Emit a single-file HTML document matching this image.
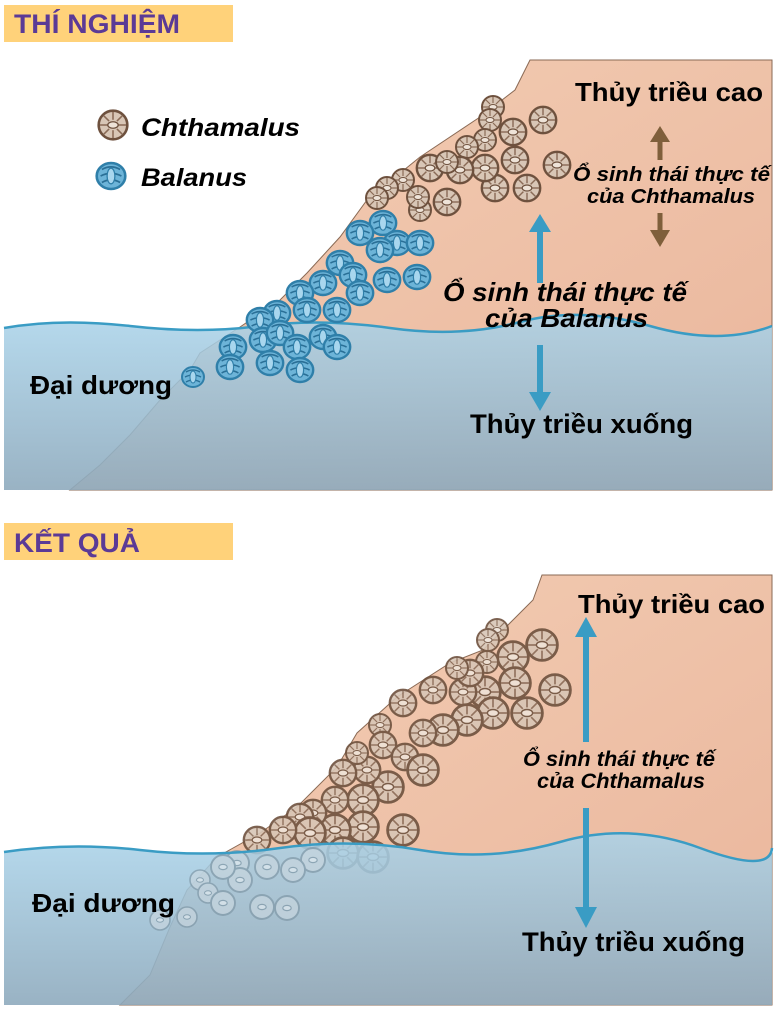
<!DOCTYPE html>
<html><head><meta charset="utf-8"><style>
html,body{margin:0;padding:0;background:#fff;width:774px;height:1009px;overflow:hidden}
svg{display:block}
text{font-family:"Liberation Sans",sans-serif;font-weight:bold;fill:#000}
</style></head><body>
<svg width="774" height="1009" viewBox="0 0 774 1009" xmlns="http://www.w3.org/2000/svg">
<defs>
<linearGradient id="rock" x1="0" y1="0" x2="1" y2="1">
<stop offset="0" stop-color="#f3cfb6"/><stop offset="1" stop-color="#eab59b"/></linearGradient>
<linearGradient id="sea" x1="0" y1="0" x2="0" y2="1">
<stop offset="0" stop-color="#a9d3ea" stop-opacity="0.85"/><stop offset="1" stop-color="#8eaabd" stop-opacity="0.9"/></linearGradient>
<symbol id="c" viewBox="-10 -10 20 20" overflow="visible">
<circle r="11" fill="#d8c6b6" stroke="#6e513e" stroke-width="2"/>
<g stroke="#8a6b57" stroke-width="1.2">
<line x1="0" y1="-10" x2="0" y2="-4"/><line x1="0" y1="10" x2="0" y2="4"/>
<line x1="-10" y1="0" x2="-4" y2="0"/><line x1="10" y1="0" x2="4" y2="0"/>
<line x1="-7" y1="-7" x2="-3" y2="-3"/><line x1="7" y1="7" x2="3" y2="3"/>
<line x1="7" y1="-7" x2="3" y2="-3"/><line x1="-7" y1="7" x2="-3" y2="3"/></g>
<ellipse rx="4" ry="2.5" fill="#eee3d8" stroke="#6e513e" stroke-width="1"/>
</symbol>
<symbol id="b" viewBox="-10 -10 20 20" overflow="visible">
<ellipse rx="11" ry="10" fill="#6db4d8" stroke="#2f7fa9" stroke-width="2"/>
<g stroke="#2a6f96" stroke-width="1.3" fill="none">
<path d="M-7,-5 Q0,-9 7,-5"/><path d="M-8,0 Q0,-4 8,0"/><path d="M-7,5 Q0,1 7,5"/></g>
<ellipse rx="3" ry="6" fill="#a8d6ee" stroke="#2f7fa9" stroke-width="1"/>
</symbol>
<symbol id="g" viewBox="-10 -10 20 20" overflow="visible">
<circle r="10" fill="#c8d6df" stroke="#7f97a6" stroke-width="1.6"/>
<ellipse rx="3.5" ry="2.2" fill="#e4ecf1" stroke="#7f97a6" stroke-width="1"/>
</symbol>
</defs>

<!-- headers -->
<rect x="4" y="5" width="229" height="37" fill="#ffd27a"/>
<text x="14" y="33" font-size="27" textLength="166" lengthAdjust="spacingAndGlyphs" style="fill:#5b3a96">THÍ NGHIỆM</text>
<rect x="4" y="523" width="229" height="37" fill="#ffd27a"/>
<text x="14" y="552" font-size="27" textLength="126" lengthAdjust="spacingAndGlyphs" style="fill:#5b3a96">KẾT QUẢ</text>

<!-- PANEL 1 -->
<path d="M530,60 L772,60 L772,490 L70,490 L100,465 L130,435 L160,400 L190,370 L200,353 L240,327 L280,300 L307,273 L340,237 L367,200 L420,157 L480,117 L515,90 Z" fill="url(#rock)" stroke="#8a6a55" stroke-width="1"/>
<path d="M4,328 Q60,318 130,326 T260,326 T390,328 T520,322 T650,326 T772,326 L772,490 L4,490 Z" fill="url(#sea)"/>
<path d="M4,328 Q60,318 130,326 T260,326 T390,328 T520,322 T650,326 T772,326" fill="none" stroke="#3a9cc4" stroke-width="2.5"/>

<g>
<use href="#c" x="531" y="108" width="24" height="24"/>
<use href="#c" x="501" y="120" width="24" height="24"/>
<use href="#c" x="483" y="97" width="20" height="20"/>
<use href="#c" x="480" y="110" width="20" height="20"/>
<use href="#c" x="475" y="130" width="20" height="20"/>
<use href="#c" x="545" y="153" width="24" height="24"/>
<use href="#c" x="503" y="148" width="24" height="24"/>
<use href="#c" x="515" y="176" width="24" height="24"/>
<use href="#c" x="483" y="176" width="24" height="24"/>
<use href="#c" x="473" y="156" width="24" height="24"/>
<use href="#c" x="457" y="137" width="20" height="20"/>
<use href="#c" x="448" y="158" width="24" height="24"/>
<use href="#c" x="435" y="190" width="24" height="24"/>
<use href="#c" x="418" y="156" width="24" height="24"/>
<use href="#c" x="437" y="152" width="20" height="20"/>
<use href="#c" x="410" y="200" width="20" height="20"/>
<use href="#c" x="408" y="187" width="20" height="20"/>
<use href="#c" x="393" y="170" width="20" height="20"/>
<use href="#c" x="377" y="178" width="20" height="20"/>
<use href="#c" x="367" y="188" width="20" height="20"/>
</g>
<g>
<use href="#b" x="371" y="211" width="24" height="24"/>
<use href="#b" x="348" y="221" width="24" height="24"/>
<use href="#b" x="385" y="231" width="24" height="24"/>
<use href="#b" x="408" y="231" width="24" height="24"/>
<use href="#b" x="368" y="238" width="24" height="24"/>
<use href="#b" x="328" y="251" width="24" height="24"/>
<use href="#b" x="341" y="263" width="24" height="24"/>
<use href="#b" x="375" y="268" width="24" height="24"/>
<use href="#b" x="405" y="265" width="24" height="24"/>
<use href="#b" x="348" y="281" width="24" height="24"/>
<use href="#b" x="311" y="271" width="24" height="24"/>
<use href="#b" x="288" y="281" width="24" height="24"/>
<use href="#b" x="295" y="298" width="24" height="24"/>
<use href="#b" x="325" y="298" width="24" height="24"/>
<use href="#b" x="265" y="301" width="24" height="24"/>
<use href="#b" x="248" y="308" width="24" height="24"/>
<use href="#b" x="251" y="328" width="24" height="24"/>
<use href="#b" x="268" y="321" width="24" height="24"/>
<use href="#b" x="285" y="335" width="24" height="24"/>
<use href="#b" x="311" y="325" width="24" height="24"/>
<use href="#b" x="325" y="335" width="24" height="24"/>
<use href="#b" x="221" y="335" width="24" height="24"/>
<use href="#b" x="218" y="355" width="24" height="24"/>
<use href="#b" x="258" y="351" width="24" height="24"/>
<use href="#b" x="288" y="358" width="24" height="24"/>
<use href="#b" x="183" y="367" width="20" height="20"/>
</g>

<!-- legend -->
<use href="#c" x="100" y="112" width="26" height="26"/>
<text x="141" y="136" font-size="25" font-style="italic" textLength="159" lengthAdjust="spacingAndGlyphs">Chthamalus</text>
<use href="#b" x="98" y="163" width="26" height="26"/>
<text x="141" y="186" font-size="25" font-style="italic" textLength="106" lengthAdjust="spacingAndGlyphs">Balanus</text>

<!-- arrows panel 1 -->
<g fill="#7f5f3b" stroke="none">
<rect x="657.5" y="138" width="5" height="22"/><polygon points="650,142 660,126 670,142"/>
<rect x="657.5" y="213" width="5" height="20"/><polygon points="650,230 660,247 670,230"/>
</g>
<g fill="#3a9cc4">
<rect x="537" y="228" width="6" height="55"/><polygon points="529,232 540,214 551,232"/>
<rect x="537" y="345" width="6" height="52"/><polygon points="529,392 540,411 551,392"/>
</g>

<text x="575" y="101" font-size="26" textLength="188" lengthAdjust="spacingAndGlyphs">Thủy triều cao</text>
<text x="573" y="181" font-size="20" font-style="italic" textLength="197" lengthAdjust="spacingAndGlyphs">Ổ sinh thái thực tế</text>
<text x="587" y="203" font-size="20" font-style="italic" textLength="168" lengthAdjust="spacingAndGlyphs">của Chthamalus</text>
<text x="443" y="301" font-size="26" font-style="italic" textLength="244" lengthAdjust="spacingAndGlyphs">Ổ sinh thái thực tế</text>
<text x="485" y="327" font-size="26" font-style="italic" textLength="163" lengthAdjust="spacingAndGlyphs">của Balanus</text>
<text x="470" y="433" font-size="27" textLength="223" lengthAdjust="spacingAndGlyphs">Thủy triều xuống</text>
<text x="30" y="394" font-size="26" textLength="142" lengthAdjust="spacingAndGlyphs">Đại dương</text>

<!-- PANEL 2 -->
<path d="M542,575 L772,575 L772,1005 L120,1005 L150,975 L170,927 L187,890 L217,857 L260,833 L297,807 L337,767 L357,733 L397,697 L450,663 L483,650 L533,600 Z" fill="url(#rock)" stroke="#8a6a55" stroke-width="1"/>
<g opacity="0.9">
<use href="#c" x="528" y="631" width="28" height="28"/>
<use href="#c" x="499" y="643" width="28" height="28"/>
<use href="#c" x="487" y="620" width="20" height="20"/>
<use href="#c" x="478" y="630" width="20" height="20"/>
<use href="#c" x="477" y="652" width="20" height="20"/>
<use href="#c" x="541" y="676" width="28" height="28"/>
<use href="#c" x="501" y="669" width="28" height="28"/>
<use href="#c" x="471" y="678" width="28" height="28"/>
<use href="#c" x="451" y="680" width="24" height="24"/>
<use href="#c" x="458" y="661" width="24" height="24"/>
<use href="#c" x="447" y="658" width="20" height="20"/>
<use href="#c" x="421" y="678" width="24" height="24"/>
<use href="#c" x="513" y="699" width="28" height="28"/>
<use href="#c" x="479" y="699" width="28" height="28"/>
<use href="#c" x="453" y="706" width="28" height="28"/>
<use href="#c" x="429" y="716" width="28" height="28"/>
<use href="#c" x="411" y="721" width="24" height="24"/>
<use href="#c" x="391" y="691" width="24" height="24"/>
<use href="#c" x="370" y="715" width="20" height="20"/>
<use href="#c" x="371" y="733" width="24" height="24"/>
<use href="#c" x="393" y="745" width="24" height="24"/>
<use href="#c" x="409" y="756" width="28" height="28"/>
<use href="#c" x="374" y="773" width="28" height="28"/>
<use href="#c" x="355" y="758" width="24" height="24"/>
<use href="#c" x="347" y="743" width="20" height="20"/>
<use href="#c" x="331" y="761" width="24" height="24"/>
<use href="#c" x="349" y="786" width="28" height="28"/>
<use href="#c" x="323" y="788" width="24" height="24"/>
<use href="#c" x="349" y="813" width="28" height="28"/>
<use href="#c" x="321" y="816" width="28" height="28"/>
<use href="#c" x="301" y="801" width="24" height="24"/>
<use href="#c" x="288" y="805" width="24" height="24"/>
<use href="#c" x="296" y="819" width="28" height="28"/>
<use href="#c" x="271" y="818" width="24" height="24"/>
<use href="#c" x="389" y="816" width="28" height="28"/>
<use href="#c" x="329" y="839" width="28" height="28"/>
<use href="#c" x="359" y="843" width="28" height="28"/>
<use href="#c" x="245" y="828" width="24" height="24"/>
</g>
<path d="M4,852 Q70,842 140,850 T280,848 T420,850 T560,842 T700,848 T772,848 L772,1005 L4,1005 Z" fill="url(#sea)"/>
<g opacity="0.7">
<use href="#g" x="301" y="848" width="24" height="24"/>
<use href="#g" x="281" y="858" width="24" height="24"/>
<use href="#g" x="255" y="855" width="24" height="24"/>
<use href="#g" x="225" y="851" width="24" height="24"/>
<use href="#g" x="228" y="868" width="24" height="24"/>
<use href="#g" x="211" y="855" width="24" height="24"/>
<use href="#g" x="190" y="870" width="20" height="20"/>
<use href="#g" x="198" y="883" width="20" height="20"/>
<use href="#g" x="211" y="891" width="24" height="24"/>
<use href="#g" x="250" y="895" width="24" height="24"/>
<use href="#g" x="275" y="896" width="24" height="24"/>
<use href="#g" x="177" y="907" width="20" height="20"/>
<use href="#g" x="150" y="910" width="20" height="20"/>
</g>
<path d="M4,852 Q70,842 140,850 T280,848 T420,850 T560,842 T700,848 T772,848" fill="none" stroke="#3a9cc4" stroke-width="2.5"/>

<g fill="#3a9cc4">
<rect x="583" y="632" width="6" height="110"/><polygon points="575,637 586,617 597,637"/>
<rect x="583" y="808" width="6" height="104"/><polygon points="575,907 586,928 597,907"/>
</g>

<text x="578" y="613" font-size="26" textLength="187" lengthAdjust="spacingAndGlyphs">Thủy triều cao</text>
<text x="523" y="766" font-size="21" font-style="italic" textLength="192" lengthAdjust="spacingAndGlyphs">Ổ sinh thái thực tế</text>
<text x="537" y="788" font-size="21" font-style="italic" textLength="168" lengthAdjust="spacingAndGlyphs">của Chthamalus</text>
<text x="522" y="951" font-size="27" textLength="223" lengthAdjust="spacingAndGlyphs">Thủy triều xuống</text>
<text x="32" y="912" font-size="26" textLength="143" lengthAdjust="spacingAndGlyphs">Đại dương</text>
</svg>
</body></html>
